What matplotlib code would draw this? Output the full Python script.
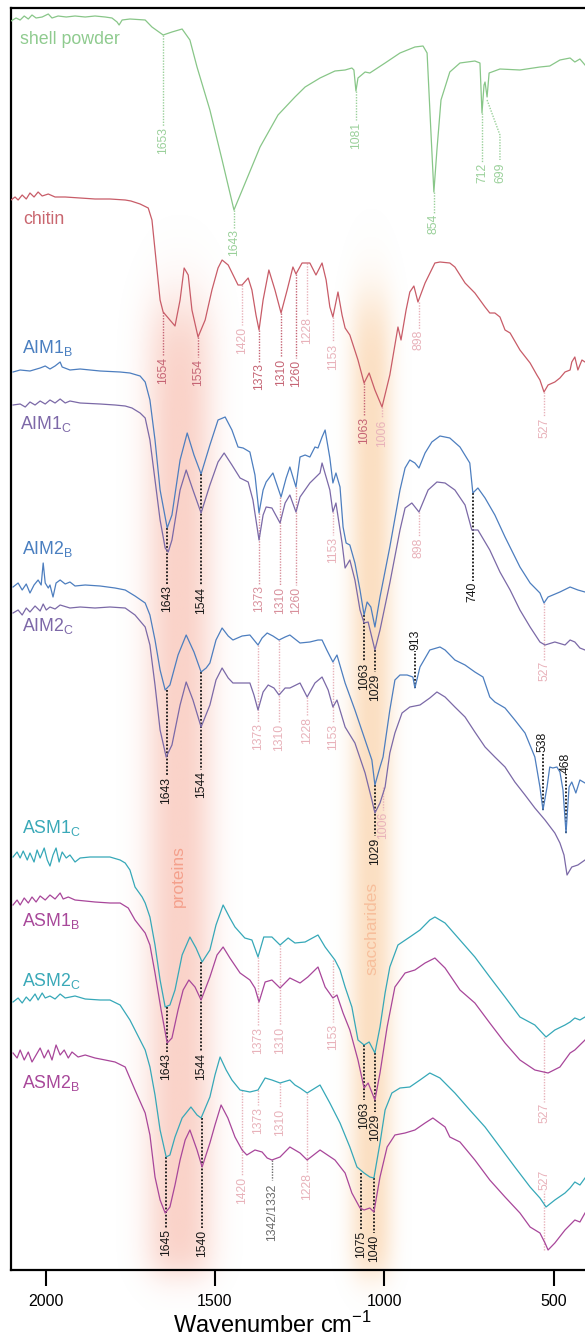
import numpy as np
import matplotlib
matplotlib.use('Agg')
import matplotlib.pyplot as plt
from matplotlib.colors import to_rgb

plt.rcParams['font.family'] = ['Liberation Sans', 'DejaVu Sans']
plt.rcParams['mathtext.fontset'] = 'custom'
plt.rcParams['mathtext.rm'] = 'Liberation Sans'

# spectra: (wavenumber cm-1, stacked transmittance a.u.)
shell = [(2102,1249),(2087,1252),(2075,1250),(2063,1254),(2051,1251),(2040,1255),(2028,1252),(2010,1253),
         (1992,1256),(1981,1252),(1963,1254),(1939,1253),(1913,1254),(1883,1253),(1854,1254),(1824,1253),
         (1804,1252),(1789,1248),(1783,1245),(1774,1250),(1751,1251),(1706,1250),(1686,1243),(1653,1235),
         (1627,1238),(1597,1241),(1574,1230),(1553,1203),(1515,1160),(1479,1110),(1444,1060),(1411,1087),
         (1367,1123),(1314,1155),(1264,1173),(1234,1183),(1190,1192),(1146,1199),(1116,1200),(1096,1202),
         (1090,1200),(1084,1179),(1078,1192),(1057,1198),(1043,1197),(998,1207),(954,1217),(910,1223),
         (886,1224),(874,1217),(863,1140),(854,1078),(845,1120),(833,1170),(807,1198),(777,1207),(733,1209),
         (718,1207),(712,1157),(706,1185),(703,1188),(697,1173),(691,1197),(659,1201),(600,1200),(541,1203),
         (512,1204),(482,1210),(452,1212),(438,1208),(423,1211),(408,1205)]

chitin = [(2102,1070),(2090,1073),(2081,1070),(2069,1075),(2057,1071),(2046,1077),(2034,1073),(2022,1078),
          (2010,1074),(1992,1076),(1972,1073),(1942,1073),(1898,1072),(1854,1071),(1810,1071),(1765,1070),
          (1748,1069),(1721,1066),(1697,1062),(1686,1050),(1674,1010),(1662,970),(1653,958),(1638,952),
          (1618,944),(1603,970),(1591,1002),(1579,995),(1568,960),(1550,933),(1529,950),(1509,980),(1491,1002),
          (1479,1010),(1461,1005),(1432,985),(1420,985),(1402,992),(1391,980),(1379,955),(1370,940),(1358,970),
          (1341,1000),(1323,980),(1305,957),(1287,980),(1270,1003),(1261,996),(1243,1007),(1220,1007),
          (1202,995),(1184,1007),(1172,990),(1161,963),(1152,953),(1137,978),(1125,955),(1116,942),(1102,935),
          (1078,910),(1060,887),(1045,897),(1028,880),(1007,863),(984,895),(960,943),(951,930),(936,960),
          (925,978),(913,984),(901,968),(880,987),(851,1007),(836,1008),(807,1007),(792,1003),(762,987),
          (733,977),(703,963),(689,957),(674,957),(659,953),(644,940),(629,937),(600,920),(570,907),(550,895),
          (541,890),(529,878),(517,885),(497,888),(482,892),(467,898),(452,900),(447,908),(438,913),(429,900),
          (417,910),(408,908)]

aim1b = [(2096,898),(2075,900),(2046,899),(2016,902),(2001,904),(1987,901),(1972,904),(1957,908),(1951,903),
         (1928,900),(1898,901),(1839,899),(1780,898),(1751,897),(1721,894),(1706,888),(1692,870),(1677,830),
         (1662,780),(1641,742),(1627,755),(1603,810),(1582,837),(1562,815),(1541,796),(1515,825),(1491,850),
         (1470,853),(1450,840),(1432,823),(1417,822),(1397,818),(1382,795),(1370,757),(1358,780),(1349,788),
         (1329,797),(1317,785),(1305,773),(1290,792),(1279,803),(1261,783),(1249,813),(1234,815),(1220,813),
         (1205,823),(1196,822),(1184,833),(1175,840),(1161,812),(1152,787),(1143,797),(1131,783),(1122,743),
         (1113,727),(1102,725),(1087,707),(1072,680),(1060,655),(1051,668),(1040,663),(1028,643),(1013,673),
         (984,723),(954,780),(939,802),(925,810),(910,807),(898,802),(880,817),(860,828),(836,834),(807,832),
         (777,823),(748,807),(739,777),(724,782),(703,772),(674,755),(644,733),(600,703),(570,687),(541,677),
         (529,667),(517,673),(482,678),(452,683),(429,680),(408,678)]

aim1c = [(2096,865),(2075,866),(2060,863),(2046,868),(2031,865),(2016,869),(2001,866),(1987,870),(1972,867),
         (1957,871),(1942,867),(1928,869),(1898,867),(1839,866),(1795,865),(1765,864),(1745,862),(1721,857),
         (1706,852),(1692,830),(1677,790),(1662,750),(1647,722),(1638,718),(1627,730),(1603,780),(1585,800),
         (1565,780),(1541,757),(1515,785),(1491,808),(1473,817),(1450,805),(1426,792),(1402,788),(1388,770),
         (1370,730),(1358,755),(1349,763),(1332,762),(1308,747),(1293,767),(1279,775),(1261,758),(1249,773),
         (1220,787),(1190,797),(1184,807),(1161,780),(1152,758),(1143,767),(1125,727),(1116,702),(1102,710),
         (1087,690),(1072,660),(1060,647),(1048,648),(1028,620),(1013,640),(984,687),(954,740),(939,762),
         (919,767),(898,758),(871,780),(845,788),(821,787),(792,780),(762,765),(742,740),(724,740),(689,720),
         (659,698),(629,680),(600,660),(570,643),(541,628),(526,625),(497,628),(467,625),(452,630),(438,628),
         (423,622),(408,620)]

aim2b = [(2096,683),(2081,687),(2069,680),(2057,686),(2046,677),(2034,685),(2022,690),(2013,685),(2007,707),
         (2001,687),(1992,682),(1987,685),(1978,673),(1969,687),(1957,690),(1942,686),(1928,688),(1913,684),
         (1883,685),(1839,684),(1795,682),(1765,680),(1736,674),(1706,667),(1692,655),(1677,630),(1662,600),
         (1647,580),(1633,585),(1609,615),(1585,635),(1562,618),(1541,598),(1526,602),(1515,607),(1497,630),
         (1479,642),(1461,634),(1447,630),(1420,634),(1397,635),(1373,625),(1361,632),(1346,637),(1329,634),
         (1311,630),(1293,633),(1279,635),(1249,627),(1220,628),(1196,630),(1184,630),(1170,620),(1152,608),
         (1140,615),(1116,587),(1087,560),(1057,530),(1037,510),(1028,485),(1013,503),(1004,513),(984,560),
         (969,590),(954,595),(933,595),(916,593),(910,582),(895,603),(866,620),(836,623),(821,620),(792,610),
         (762,605),(733,598),(709,593),(689,573),(674,568),(644,562),(615,550),(585,537),(556,513),(541,483),
         (532,460),(520,483),(512,503),(503,502),(491,503),(482,498),(473,480),(464,437),(455,483),(447,488),
         (435,477),(423,490),(408,487)]

aim2c = [(2096,657),(2081,660),(2069,655),(2057,662),(2046,658),(2031,664),(2016,659),(2007,666),(1998,660),
         (1987,663),(1972,661),(1957,665),(1928,662),(1898,663),(1854,662),(1810,663),(1765,662),(1736,655),
         (1706,643),(1692,625),(1677,585),(1662,540),(1644,513),(1627,525),(1603,565),(1585,588),(1565,570),
         (1541,543),(1515,565),(1497,590),(1479,602),(1461,592),(1447,587),(1397,587),(1385,575),(1373,560),
         (1358,578),(1343,585),(1326,582),(1311,575),(1293,582),(1279,582),(1249,587),(1228,573),(1205,587),
         (1184,593),(1166,580),(1152,563),(1140,570),(1116,543),(1087,527),(1057,497),(1037,470),(1028,457),
         (1013,467),(998,483),(984,517),(969,537),(948,557),(925,563),(895,565),(866,572),(845,578),(821,573),
         (792,563),(762,553),(733,538),(703,523),(674,513),(644,503),(615,488),(585,475),(556,462),(526,450),
         (497,437),(482,427),(470,415),(461,395),(447,403),(429,405),(408,410)]

asm1c = [(2096,413),(2084,418),(2075,412),(2066,419),(2054,410),(2046,417),(2034,408),(2025,420),(2016,412),
         (2004,422),(1995,410),(1987,404),(1978,415),(1969,422),(1960,408),(1951,418),(1939,412),(1928,415),
         (1913,408),(1898,412),(1869,413),(1839,413),(1810,413),(1780,410),(1765,407),(1751,400),(1736,383),
         (1715,373),(1706,367),(1692,353),(1677,325),(1662,290),(1647,263),(1633,265),(1618,280),(1597,315),
         (1574,333),(1556,322),(1538,308),(1515,320),(1497,345),(1476,365),(1456,352),(1441,343),(1412,332),
         (1391,330),(1373,313),(1356,333),(1332,333),(1308,325),(1284,332),(1264,327),(1234,328),(1196,335),
         (1175,323),(1146,310),(1131,300),(1116,283),(1096,263),(1078,230),(1060,225),(1045,228),(1028,217),
         (1013,243),(998,277),(984,303),(960,325),(925,333),(895,340),(866,350),(851,353),(821,347),(777,330),
         (733,313),(689,293),(644,273),(600,253),(556,245),(523,233),(497,240),(467,245),(452,248),(438,252),
         (423,250),(408,253)]

asm1b = [(2096,365),(2084,370),(2075,365),(2063,372),(2051,367),(2040,373),(2028,368),(2016,374),(2001,370),
         (1987,375),(1972,371),(1957,377),(1948,371),(1933,373),(1913,370),(1883,369),(1854,368),(1810,367),
         (1780,367),(1756,362),(1736,350),(1706,337),(1692,325),(1677,297),(1659,260),(1641,227),(1627,232),
         (1609,260),(1594,280),(1577,290),(1559,283),(1541,270),(1515,293),(1494,315),(1476,323),(1456,312),
         (1426,297),(1397,290),(1382,282),(1370,268),(1352,288),(1332,290),(1308,282),(1279,292),(1249,287),
         (1226,293),(1196,303),(1175,283),(1152,272),(1140,275),(1122,257),(1102,240),(1078,210),(1060,182),
         (1048,187),(1028,170),(1013,197),(992,243),(969,283),(939,297),(910,300),(880,307),(851,312),(821,302),
         (777,280),(733,267),(689,247),(644,227),(600,210),(556,200),(517,197),(482,203),(452,217),(438,220),
         (423,225),(408,230)]

asm2c = [(2096,268),(2081,272),(2069,267),(2057,273),(2046,269),(2031,276),(2022,270),(2010,277),(2001,272),
         (1987,274),(1972,271),(1957,276),(1942,272),(1913,274),(1883,271),(1839,270),(1810,270),(1780,265),
         (1751,250),(1721,230),(1706,220),(1692,203),(1677,175),(1662,140),(1644,113),(1633,115),(1618,133),
         (1597,152),(1571,163),(1553,155),(1541,152),(1515,173),(1500,195),(1485,213),(1467,200),(1450,190),
         (1426,180),(1397,178),(1373,180),(1352,192),(1332,190),(1308,187),(1279,190),(1264,185),(1249,182),
         (1228,177),(1190,185),(1161,167),(1131,147),(1102,123),(1081,103),(1060,97),(1043,93),(1031,92),
         (1013,127),(998,160),(978,177),(954,182),(925,183),(895,190),(866,197),(836,192),(792,177),(748,160),
         (703,143),(659,123),(615,103),(570,83),(541,72),(523,63),(497,70),(467,77),(452,82),(438,88),(423,85),
         (408,92)]

asm2b = [(2096,217),(2084,212),(2075,220),(2063,210),(2051,218),(2040,208),(2028,215),(2016,222),(2004,212),
         (1992,220),(1981,210),(1969,225),(1957,215),(1945,220),(1933,212),(1922,218),(1904,213),(1883,215),
         (1854,212),(1824,210),(1795,208),(1765,203),(1736,180),(1706,157),(1692,135),(1677,93),(1662,70),
         (1647,57),(1633,63),(1618,85),(1603,110),(1588,130),(1574,140),(1553,120),(1538,103),(1515,127),
         (1500,145),(1482,165),(1462,152),(1441,133),(1420,120),(1406,115),(1382,120),(1361,118),(1346,112),
         (1332,110),(1308,113),(1279,123),(1249,117),(1228,110),(1190,120),(1146,110),(1116,97),(1096,77),
         (1072,62),(1060,60),(1043,62),(1031,58),(1013,93),(992,123),(969,135),(939,137),(910,140),(880,147),
         (857,152),(821,143),(807,133),(777,128),(733,110),(689,90),(644,73),(600,57),(570,43),(541,37),
         (526,27),(517,20),(497,27),(467,40),(438,50),(423,48),(408,57)]

series_names = ['shell powder', 'chitin',
                r'AIM1$_\mathregular{B}$', r'AIM1$_\mathregular{C}$',
                r'AIM2$_\mathregular{B}$', r'AIM2$_\mathregular{C}$',
                r'ASM1$_\mathregular{C}$', r'ASM1$_\mathregular{B}$',
                r'ASM2$_\mathregular{C}$', r'ASM2$_\mathregular{B}$']
series_data = [shell, chitin, aim1b, aim1c, aim2b, aim2c, asm1c, asm1b, asm2c, asm2b]

xticks = [2000, 1500, 1000, 500]

# colours
line_colors = ['#88c688', '#c85c68', '#4d7ebf', '#7b69a7', '#4d7ebf', '#7b69a7',
               '#36a8b8', '#a8469a', '#36a8b8', '#a8469a']
name_colors = ['#8fcb8f', '#c9666f', '#4a7fc0', '#7d68a8', '#4a7fc0', '#7d68a8',
               '#3aa9b8', '#a8489a', '#3aa9b8', '#a8489a']
lab_col = {'k': '#161616', 'dp': '#c56474', 'mp': '#d8909c', 'lp': '#e8b2ba',
           'g': '#9ad09a', 'gr': '#6a6a6a'}

# (position, curve level, text level, text, colour)
peaks = [
    (1653, 1235, 1129, '1653', 'g'), (1444, 1060, 1027, '1643', 'g'), (1084, 1179, 1135, '1081', 'g'),
    (854, 1078, 1046, '854', 'g'), (712, 1157, 1097, '712', 'g'),
    (1654, 958, 900, '1654', 'dp'), (1550, 933, 898, '1554', 'dp'), (1420, 985, 930, '1420', 'lp'),
    (1370, 940, 893, '1373', 'dp'), (1305, 957, 898, '1310', 'dp'), (1261, 996, 897, '1260', 'dp'),
    (1228, 1007, 940, '1228', 'lp'), (1152, 953, 913, '1153', 'lp'), (1060, 887, 840, '1063', 'dp'),
    (1007, 863, 837, '1006', 'lp'), (898, 968, 930, '898', 'lp'), (529, 878, 842, '527', 'lp'),
    (1642, 742, 671, '1643', 'k'), (1541, 796, 670, '1544', 'k'), (1370, 757, 671, '1373', 'mp'),
    (1307, 773, 670, '1310', 'mp'), (1261, 783, 670, '1260', 'mp'), (1152, 758, 720, '1153', 'lp'),
    (898, 758, 722, '898', 'lp'), (739, 777, 678, '740', 'k'), (1060, 655, 594, '1063', 'k'),
    (1028, 620, 583, '1029', 'k'), (529, 667, 599, '527', 'lp'),
    (1643, 580, 480, '1643', 'k'), (1541, 598, 485, '1544', 'k'), (1373, 625, 533, '1373', 'lp'),
    (1310, 630, 533, '1310', 'lp'), (1228, 573, 540, '1228', 'lp'), (1152, 608, 533, '1153', 'lp'),
    (910, 582, 630, '913', 'k'), (533, 460, 528, '538', 'k'), (464, 437, 507, '468', 'k'),
    (1028, 485, 419, '1029', 'k'), (1004, 483, 445, '1006', 'lp'),
    (1643, 263, 203, '1643', 'k'), (1541, 308, 203, '1544', 'k'), (1373, 313, 230, '1373', 'lp'),
    (1308, 325, 230, '1310', 'lp'), (1152, 310, 233, '1153', 'lp'), (1060, 225, 155, '1063', 'k'),
    (1028, 217, 143, '1029', 'k'), (529, 233, 157, '527', 'lp'),
    (1644, 113, 27, '1645', 'k'), (1538, 152, 27, '1540', 'k'), (1420, 180, 80, '1420', 'lp'),
    (1373, 180, 150, '1373', 'lp'), (1308, 187, 148, '1310', 'lp'), (1332, 110, 58, '1342/1332', 'gr'),
    (1228, 177, 83, '1228', 'lp'), (1069, 97, 26, '1075', 'k'), (1031, 92, 22, '1040', 'k'),
    (529, 20, 90, '527', 'lp'),
]

W0, W1 = 2102, 408
fig = plt.figure(figsize=(5.85, 13.38), dpi=100)
ax = fig.add_axes([11/585, 68/1338, 574/585, 1262/1338])


def glow(center, scale, top, color, alpha):
    ws = np.linspace(W0, W1, 500)
    vs = np.linspace(-40, 1100, 500)
    hx = np.exp(-np.abs((ws - center) / scale) ** 2.4)
    vy = 1 / (1 + np.exp((vs - top) / 20)) / (1 + np.exp(-(vs + 5) / 10))
    rgba = np.zeros((len(vs), len(ws), 4))
    rgba[..., :3] = to_rgb(color)
    rgba[..., 3] = alpha * np.outer(vy, hx)
    ax.imshow(rgba, extent=(W0, W1, vs[0], vs[-1]), origin='lower', aspect='auto',
              zorder=0, clip_on=False, interpolation='bilinear')


glow(1605, 100, 965, '#f28a70', 0.38)
glow(1038, 64, 970, '#f7b068', 0.40)

for data, c in zip(series_data, line_colors):
    wn, t = np.array(data).T
    ax.plot(wn, t, color=c, lw=0.9, zorder=3)

name_pos = [(2075, 1230), (2066, 1050), (2069, 922), (2075, 846), (2069, 721), (2069, 644),
            (2069, 442), (2069, 349), (2069, 289), (2069, 187)]
for (x, y), s, c in zip(name_pos, series_names, name_colors):
    ax.text(x, y, s, color=c, fontsize=12.8, ha='left', va='center', zorder=4)

for w, yf, yt, s, ck in peaks:
    c = lab_col[ck]
    half = len(s) * 3.4 + 1
    ye = yt + half if yf > yt else yt - half
    lw = 1.3 if ck == 'k' else 1.0
    ax.plot([w, w], [yf, ye], color=c, lw=lw, ls=(0, (1, 1)), zorder=2)
    ax.text(w, yt, s, rotation=90, ha='center', va='center', fontsize=8.7, color=c, zorder=4)

# 699 label sits off the doublet with a bent leader
ax.plot([697, 659, 659], [1170, 1135, 1110], color=lab_col['g'], lw=1.0, ls=(0, (1, 1)), zorder=2)
ax.text(659, 1097, '699', rotation=90, ha='center', va='center', fontsize=8.7, color=lab_col['g'])

ax.text(1609, 394, 'proteins', rotation=90, ha='center', va='center', fontsize=12.5, color='#f4a08c')
ax.text(1037, 342, 'saccharides', rotation=90, ha='center', va='center', fontsize=12.5, color='#f7bf9c')

ax.set_xlim(W0, W1)
ax.set_ylim(0, 1262)
ax.set_yticks([])
ax.set_xticks(xticks)
ax.tick_params(axis='x', direction='out', length=11.5, width=1.5, labelsize=11.5, pad=6)
ax.set_xlabel(r'Wavenumber cm$^{\mathregular{-1}}$', fontsize=17, va='baseline')
ax.xaxis.set_label_coords(0.456, -63 / 1262)
for side in ['left', 'top', 'bottom']:
    ax.spines[side].set_linewidth(1.6)
ax.spines['right'].set_visible(False)

fig.savefig('out.png', dpi=100)
